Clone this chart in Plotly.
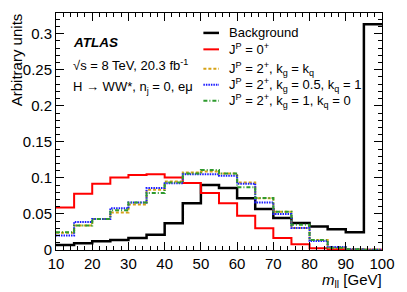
import plotly.graph_objects as go

edges = [10, 15, 20, 25, 30, 35, 40, 45, 50, 55, 60, 65, 70, 75, 80, 85, 90, 95, 100]
background = [0.007, 0.0094, 0.012, 0.014, 0.0165, 0.021, 0.037, 0.065, 0.090, 0.086, 0.0716, 0.057, 0.0445, 0.0375, 0.0325, 0.0288, 0.0246, 0.313]
spin0 = [0.059, 0.078, 0.092, 0.1005, 0.104, 0.105, 0.1005, 0.093, 0.079, 0.065, 0.0476, 0.030, 0.0168, 0.008, 0.0025, 0.001, 0.0005, 0.0002]
spin2_kgkq = [0.024, 0.034, 0.043, 0.052, 0.063, 0.0835, 0.095, 0.1075, 0.109, 0.106, 0.0937, 0.0716, 0.053, 0.0306, 0.014, 0.003, 0.001, 0.0005]
spin2_05_1 = [0.020, 0.039, 0.043, 0.058, 0.066, 0.086, 0.0925, 0.105, 0.105, 0.103, 0.092, 0.066, 0.050, 0.0306, 0.0126, 0.004, 0.001, 0.0005]
spin2_1_0 = [0.0246, 0.034, 0.043, 0.055, 0.066, 0.079, 0.0937, 0.106, 0.111, 0.106, 0.087, 0.072, 0.053, 0.035, 0.014, 0.003, 0.001, 0.0005]

x_ticks = [10, 20, 30, 40, 50, 60, 70, 80, 90, 100]
y_ticks = [0, 0.05, 0.1, 0.15, 0.2, 0.25, 0.3]
y_ticklabels = ["0", "0.05", "0.1", "0.15", "0.2", "0.25", "0.3"]

legend_labels = [
    "Background",
    "J<sup>P</sup> = 0<sup>+</sup>",
    "J<sup>P</sup> = 2<sup>+</sup>, k<sub>g</sub> = k<sub>q</sub>",
    "J<sup>P</sup> = 2<sup>+</sup>, k<sub>g</sub> = 0.5, k<sub>q</sub> = 1",
    "J<sup>P</sup> = 2<sup>+</sup>, k<sub>g</sub> = 1, k<sub>q</sub> = 0",
]

series = [background, spin0, spin2_kgkq, spin2_05_1, spin2_1_0]
colors = ["#000000", "#ff0000", "#d6a216", "#1a1aff", "#2e9a2e"]
dashes = ["solid", "solid", "3px,2px", "1.5px,1px", "4px,2px,1px,2px"]
widths = [2.5, 2, 2, 2, 2]

FONT = "Liberation Sans, Arial, Helvetica, sans-serif"
W, H = 407, 292
L, R, T, B = 56, 17, 12, 42
pw, ph = W - L - R, H - T - B

def px_x(p):
    return (p - L) / pw

def px_y(p):
    return (H - B - p) / ph

fig = go.Figure()
for vals, col, dash, w, name in zip(series, colors, dashes, widths, legend_labels):
    fig.add_trace(go.Scatter(
        x=edges, y=vals + [vals[-1]], mode="lines", line_shape="hv",
        line=dict(color=col, width=w, dash=dash), name=name, showlegend=False,
    ))

shapes = []
annotations = []
row_y = [32, 48.5, 68, 84, 100]
for yy, col, dash, w, lab in zip(row_y, colors, dashes, widths, legend_labels):
    shapes.append(dict(type="line", xref="paper", yref="paper",
                       x0=px_x(207), x1=px_x(223), y0=px_y(yy), y1=px_y(yy),
                       line=dict(color=col, width=w, dash=dash)))
    annotations.append(dict(xref="paper", yref="paper", x=px_x(231), y=px_y(yy),
                            xanchor="left", yanchor="middle", text=lab, showarrow=False,
                            font=dict(family=FONT, size=13, color="black")))

annotations += [
    dict(xref="paper", yref="paper", x=px_x(71), y=px_y(42), xanchor="left", yanchor="middle",
         text="<b><i>ATLAS</i></b>", showarrow=False, font=dict(family=FONT, size=13.5, color="black")),
    dict(xref="paper", yref="paper", x=px_x(71), y=px_y(64), xanchor="left", yanchor="middle",
         text="√s = 8 TeV, 20.3 fb<sup>-1</sup>", showarrow=False, font=dict(family=FONT, size=13, color="black")),
    dict(xref="paper", yref="paper", x=px_x(71), y=px_y(87), xanchor="left", yanchor="middle",
         text="H → WW*, n<sub>j</sub> = 0, eμ", showarrow=False, font=dict(family=FONT, size=13, color="black")),
    dict(xref="paper", yref="paper", x=px_x(5), y=px_y(10), xanchor="left", yanchor="top", textangle=-90,
         text="Arbitrary units", showarrow=False, font=dict(family=FONT, size=15, color="black")),
    dict(xref="paper", yref="paper", x=px_x(392), y=px_y(281), xanchor="right", yanchor="middle",
         text="<i>m</i><sub>ll</sub> [GeV]", showarrow=False, font=dict(family=FONT, size=15, color="black")),
]

fig.update_layout(
    width=W, height=H, margin=dict(l=L, r=R, t=T, b=B),
    paper_bgcolor="white", plot_bgcolor="white",
    shapes=shapes, annotations=annotations, showlegend=False,
    font=dict(family=FONT, color="black"),
)
fig.update_xaxes(range=[10, 100], tickvals=x_ticks, ticks="inside", ticklen=8, tickwidth=1,
                 tickcolor="black", showline=True, linecolor="black", linewidth=1, mirror="allticks",
                 showgrid=False, zeroline=False, tickfont=dict(family=FONT, size=15),
                 minor=dict(dtick=2, tick0=10, ticks="inside", ticklen=4, tickcolor="black", showgrid=False))
fig.update_yaxes(range=[0, 0.3287], tickvals=y_ticks, ticktext=y_ticklabels, ticks="inside", ticklen=8,
                 tickwidth=1, tickcolor="black", showline=True, linecolor="black", linewidth=1,
                 mirror="allticks", showgrid=False, zeroline=False, tickfont=dict(family=FONT, size=15),
                 minor=dict(dtick=0.01, tick0=0, ticks="inside", ticklen=4, tickcolor="black", showgrid=False))

fig.write_html("out.html", config={"displayModeBar": False},
               post_script="document.body.style.margin='0px';document.body.style.padding='0px';")
